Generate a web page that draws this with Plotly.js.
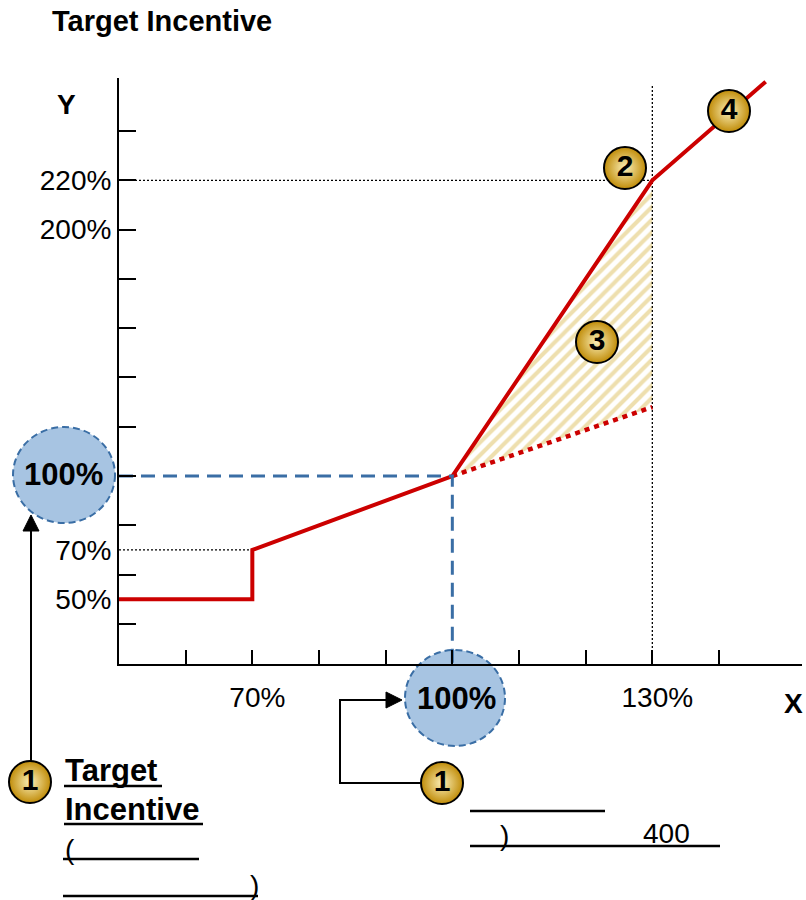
<!DOCTYPE html>
<html><head><meta charset="utf-8">
<script src="https://cdn.plot.ly/plotly-3.0.1.min.js"></script>
<style>html,body{margin:0;padding:0;background:#fff}</style>
</head><body><div id="chart" style="width:806px;height:900px"></div>
<script>
// ---------------- data ----------------
const incentiveX = [50, 70, 70, 100, 130, 147];
const incentiveY = [50, 50, 70, 100, 220, 260];
const alternativeX = [100, 130];
const alternativeY = [100, 128];
const hatchX = [100, 130, 130, 100];
const hatchY = [100, 220, 128, 100];
const targetX = 100, targetY = 100;
const capX = 130, capY = 220;
const stepX = 70, stepY = 70;
const xTickVals = [60, 70, 80, 90, 100, 110, 120, 130, 140];
const xLabelVals = [70, 130];
const xLabelText = ['70%', '130%'];
const yTickVals = [40, 60, 80, 100, 120, 140, 160, 180, 200, 220, 240];
const yLabelVals = [50, 70, 200, 220];
const yLabelText = ['50%', '70%', '200%', '220%'];
const badgeText = ['1', '1', '2', '3', '4'];
const targetLabel = '100%';

// ---------------- layout helpers ----------------
const W = 806, H = 900;
const FONT = 'Liberation Sans, Arial, sans-serif';
const xMin = 50, xMax = 152.45, yMin = 23.73, yMax = 261.5;
const vLineTop = 258.5;
// badge positions (pixel space)
const badgePX = [30, 442, 625, 597, 729];
const badgePY = [782, 783, 168, 342, 111];

const traces = [
  { x: hatchX, y: hatchY, xaxis: 'x', yaxis: 'y', mode: 'none', fill: 'toself',
    fillcolor: 'white',
    fillpattern: { shape: '/', fgcolor: '#eedfae', bgcolor: 'white', size: 9, solidity: 0.45 },
    hoverinfo: 'skip', showlegend: false },
  // black dotted guides
  { x: [xMin, capX], y: [capY, capY], mode: 'lines', line: { color: '#000', width: 1.3, dash: '2px,2px' }, hoverinfo: 'skip', showlegend: false, cliponaxis: false },
  { x: [capX, capX], y: [yMin, vLineTop], mode: 'lines', line: { color: '#000', width: 1.3, dash: '2px,2px' }, hoverinfo: 'skip', showlegend: false, cliponaxis: false },
  { x: [xMin, stepX], y: [stepY, stepY], mode: 'lines', line: { color: '#000', width: 1.3, dash: '2px,2px' }, hoverinfo: 'skip', showlegend: false, cliponaxis: false },
  // red dotted alternative
  { x: alternativeX, y: alternativeY, mode: 'lines', line: { color: '#cc0000', width: 4.5, dash: '5px,5px' }, hoverinfo: 'skip', showlegend: false, cliponaxis: false },
  // red main curve
  { x: incentiveX, y: incentiveY, mode: 'lines', line: { color: '#cc0000', width: 4 }, hoverinfo: 'skip', showlegend: false, cliponaxis: false },
  // blue dashed target guides
  { x: [xMin, targetX, targetX], y: [targetY, targetY, yMin], mode: 'lines', line: { color: '#3a6ea5', width: 3, dash: '14px,8px' }, hoverinfo: 'skip', showlegend: false, cliponaxis: false },
  // gold badges
  { x: badgePX, y: badgePY, xaxis: 'x2', yaxis: 'y2', mode: 'markers+text', text: badgeText,
    textposition: 'middle center', textfont: { family: FONT, size: 30, color: '#000', weight: 'bold' },
    marker: { size: 42, color: '#c08c08', gradient: { type: 'radial', color: '#fbefb8' }, line: { color: '#000', width: 2 } },
    hoverinfo: 'skip', showlegend: false, cliponaxis: false }
];

function pxShapeLine(x0, y0, x1, y1, w) {
  return { type: 'line', xref: 'x2', yref: 'y2', x0, y0, x1, y1, line: { color: '#000', width: w || 2.5 } };
}
function ellipse(cx, cy, rx, ry) {
  return { type: 'circle', xref: 'paper', yref: 'paper', layer: 'below',
    x0: (cx - rx) / W, x1: (cx + rx) / W, y0: 1 - (cy + ry) / H, y1: 1 - (cy - ry) / H,
    fillcolor: '#a7c4e2', line: { color: '#3a6ea5', width: 2, dash: '7px,4px' } };
}

const shapes = [
  ellipse(64, 475, 51, 48),
  ellipse(455, 698, 50, 48),
  // arrows
  { type: 'path', xref: 'x2', yref: 'y2', path: 'M31,761 L31,528', line: { color: '#000', width: 2 } },
  { type: 'path', xref: 'x2', yref: 'y2', path: 'M31,515 L23,531 L39,531 Z', fillcolor: '#000', line: { color: '#000', width: 1 } },
  { type: 'path', xref: 'x2', yref: 'y2', path: 'M421,783 L340,783 L340,700 L389,700', line: { color: '#000', width: 2 } },
  { type: 'path', xref: 'x2', yref: 'y2', path: 'M402,700 L386,692 L386,708 Z', fillcolor: '#000', line: { color: '#000', width: 1 } },
  // underlines
  pxShapeLine(64, 786, 162, 786),
  pxShapeLine(64, 824, 203, 824),
  pxShapeLine(63, 859, 199, 859),
  pxShapeLine(63, 896, 258, 896),
  pxShapeLine(470, 811, 605, 811),
  pxShapeLine(470, 846, 720, 846)
];

function ann(text, x, y, size, bold, xanchor) {
  return { text: text, xref: 'x2', yref: 'y2', x: x, y: y, showarrow: false,
    xanchor: xanchor || 'center', yanchor: 'middle',
    font: { family: FONT, size: size, color: '#000', weight: bold ? 'bold' : 'normal' } };
}

const annotations = [
  ann('Y', 66, 104, 28, true),
  ann('X', 793, 703, 28, true),
  ann(targetLabel, 63, 474, 31, true),
  ann(targetLabel, 456, 698, 31, true),
  ann('Target', 63, 770, 31, true, 'left'),
  ann('Incentive', 63, 809, 31, true, 'left'),
  ann('(', 63, 849, 28, false, 'left'),
  ann(')', 248, 885, 28, false, 'left'),
  ann(')', 498, 835, 28, false, 'left'),
  ann('400', 641, 833, 28, false, 'left')
];

const layout = {
  width: W, height: H, autosize: false,
  margin: { l: 0, r: 0, t: 0, b: 0 },
  paper_bgcolor: '#fff', plot_bgcolor: 'rgba(0,0,0,0)',
  font: { family: FONT, color: '#000' },
  title: { text: '<b>Target Incentive</b>', x: 52 / W, xref: 'container', xanchor: 'left',
    y: 1 - 21 / H, yref: 'container', yanchor: 'middle', font: { family: FONT, size: 29, color: '#000' } },
  showlegend: false,
  xaxis: { domain: [119 / W, 802 / W], range: [xMin, xMax], showline: true, linecolor: '#000', linewidth: 2,
    showgrid: false, zeroline: false, ticks: '', tickmode: 'array', tickvals: xLabelVals, ticktext: xLabelText,
    tickfont: { family: FONT, size: 28, color: '#000' }, ticklabelstandoff: 7, ticklabelshift: 5,
    minor: { tickmode: 'array', tickvals: xTickVals, ticks: 'inside', ticklen: 14, tickwidth: 2, tickcolor: '#000', showgrid: false },
    anchor: 'y', fixedrange: true },
  yaxis: { domain: [1 - 664 / H, 1 - 78 / H], range: [yMin, yMax], showline: true, linecolor: '#000', linewidth: 2,
    showgrid: false, zeroline: false, ticks: '', tickmode: 'array', tickvals: yLabelVals, ticktext: yLabelText,
    tickfont: { family: FONT, size: 28, color: '#000' }, ticklabelstandoff: 0,
    minor: { tickmode: 'array', tickvals: yTickVals, ticks: 'inside', ticklen: 17, tickwidth: 2, tickcolor: '#000', showgrid: false },
    anchor: 'x', fixedrange: true },
  xaxis2: { domain: [0, 1], range: [0, W], visible: false, anchor: 'y2', fixedrange: true },
  yaxis2: { domain: [0, 1], range: [H, 0], visible: false, anchor: 'x2', fixedrange: true },
  shapes: shapes,
  annotations: annotations
};

Plotly.newPlot('chart', traces, layout, { staticPlot: true, displayModeBar: false });
</script>
</body></html>
